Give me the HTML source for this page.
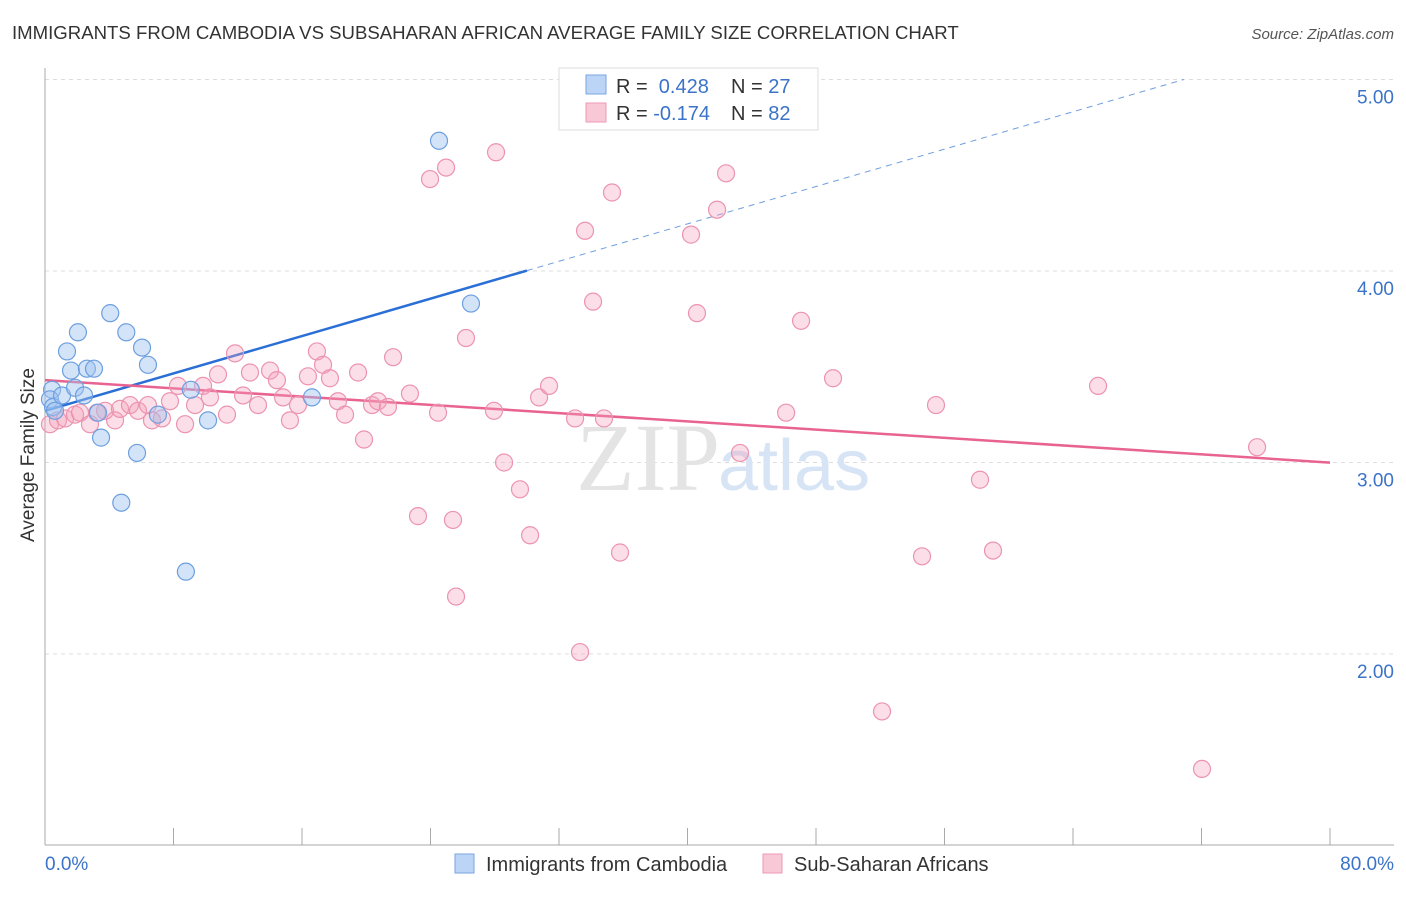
<!DOCTYPE html>
<html><head><meta charset="utf-8"><style>
body{margin:0;background:#fff;font-family:"Liberation Sans",sans-serif;}
</style></head><body>
<svg width="1406" height="892" xmlns="http://www.w3.org/2000/svg" style="font-family:'Liberation Sans',sans-serif">
<text x="12" y="39" font-size="18.6" fill="#333">IMMIGRANTS FROM CAMBODIA VS SUBSAHARAN AFRICAN AVERAGE FAMILY SIZE CORRELATION CHART</text>
<text x="1394" y="39" font-size="15" fill="#555" font-style="italic" text-anchor="end">Source: ZipAtlas.com</text>
<g id="grid"></g>
<g id="axes"></g>
<text x="720" y="490" font-size="96" fill="#e4e4e4" text-anchor="end" font-family="Liberation Serif">ZIP</text>
<text x="718" y="490" font-size="72" fill="#d6e4f5">atlas</text>
<g id="trend"></g>
<g id="pts"></g>
<text x="34" y="455" font-size="19" fill="#333" text-anchor="middle" transform="rotate(-90 34 455)">Average Family Size</text>
<text x="45" y="870" font-size="19" fill="#3b73c9">0.0%</text>
<text x="1394" y="870" font-size="19" fill="#3b73c9" text-anchor="end">80.0%</text>
<g>
<rect x="559" y="68" width="259" height="62" fill="#fff" stroke="#ddd"/>
<rect x="586" y="75" width="20" height="19" fill="#bcd4f5" stroke="#7aa6e0"/>
<rect x="586" y="103" width="20" height="19" fill="#f9c8d6" stroke="#ee9ab4"/>
<text x="616" y="93" font-size="20" fill="#333">R = <tspan fill="#3b73c9">&#160;0.428</tspan><tspan x="731">N = </tspan><tspan fill="#3b73c9">27</tspan></text>
<text x="616" y="120" font-size="20" fill="#333">R = <tspan fill="#3b73c9">-0.174</tspan><tspan x="731">N = </tspan><tspan fill="#3b73c9">82</tspan></text>
</g>
<g>
<rect x="455" y="854" width="19" height="19" fill="#bcd4f5" stroke="#7aa6e0"/>
<text x="486" y="871" font-size="20" fill="#333">Immigrants from Cambodia</text>
<rect x="763" y="854" width="19" height="19" fill="#f9c8d6" stroke="#ee9ab4"/>
<text x="794" y="871" font-size="20" fill="#333">Sub-Saharan Africans</text>
</g>
</svg>
<script>
const yTicks=[2,3,4,5];
const yTickLabels=["2.00","3.00","4.00","5.00"];
const blueX=[0.44,0.31,0.50,0.62,1.06,1.37,1.62,1.87,2.05,2.43,2.61,3.05,3.30,3.49,4.06,4.75,5.06,5.73,6.04,6.41,7.03,8.77,9.08,10.15,16.62,24.53,26.52];
const blueY=[3.38,3.33,3.29,3.27,3.35,3.58,3.48,3.39,3.68,3.35,3.49,3.49,3.26,3.13,3.78,2.79,3.68,3.05,3.60,3.51,3.25,2.43,3.38,3.22,3.34,4.68,3.83];
const pinkX=[0.31,0.81,1.25,1.87,2.18,2.80,3.24,3.74,4.36,4.67,5.29,5.79,6.41,6.66,7.28,7.78,8.28,8.72,9.34,9.84,10.27,10.77,11.33,11.83,12.33,12.76,13.26,14.01,14.44,14.82,15.25,15.75,16.37,16.93,17.31,17.74,18.24,18.68,19.49,19.86,20.36,20.73,21.35,21.67,22.72,23.22,23.97,24.47,24.97,25.40,25.59,26.21,27.95,28.08,28.58,29.57,30.20,30.76,31.38,33.00,33.31,33.62,34.12,34.80,35.30,35.80,40.22,40.59,41.84,42.40,43.27,46.14,47.07,49.06,52.11,54.60,55.47,58.21,59.02,65.56,72.03,75.46];
const pinkY=[3.20,3.22,3.23,3.25,3.26,3.20,3.26,3.27,3.22,3.28,3.30,3.27,3.30,3.22,3.23,3.32,3.40,3.20,3.30,3.40,3.34,3.46,3.25,3.57,3.35,3.47,3.30,3.48,3.43,3.34,3.22,3.30,3.45,3.58,3.51,3.44,3.32,3.25,3.47,3.12,3.30,3.32,3.29,3.55,3.36,2.72,4.48,3.26,4.54,2.70,2.30,3.65,3.27,4.62,3.00,2.86,2.62,3.34,3.40,3.23,2.01,4.21,3.84,3.23,4.41,2.53,4.19,3.78,4.32,4.51,3.05,3.26,3.74,3.44,1.70,2.51,3.30,2.91,2.54,3.40,1.40,3.08];
const blueTrend=[3.27,0.0244]; // intercept, slope
const pinkTrend=[3.43,-0.00538];
const NS="http://www.w3.org/2000/svg";
const xS=v=>45+v*(1285/80);
const yS=v=>79.5+(5-v)*191.5;
function mk(t,a,p){const e=document.createElementNS(NS,t);for(const k in a)e.setAttribute(k,a[k]);p.appendChild(e);return e;}
const grid=document.getElementById('grid'),axes=document.getElementById('axes');
yTicks.forEach((t,i)=>{
 const g=mk('line',{x1:45,x2:1394,y1:yS(t),y2:yS(t),stroke:'#ddd','stroke-dasharray':'4,4'},grid);
 
 
 const l=mk('text',{x:1394,y:yS(t)+24,'font-size':19,fill:'#3b73c9','text-anchor':'end'},grid);
 l.textContent=yTickLabels[i];
 
 
});
const ax=mk('line',{x1:45,x2:45,y1:68,y2:845,stroke:'#aaa'},axes);


const bx=mk('line',{x1:45,x2:1394,y1:845,y2:845,stroke:'#aaa'},axes);


for(let i=0;i<=10;i++){const t=mk('line',{x1:xS(i*8),x2:xS(i*8),y1:828,y2:845,stroke:'#aaa'},axes);
 
 }
const tr=document.getElementById('trend');
const bEnd=(5-blueTrend[0])/blueTrend[1];
const b1=mk('line',{x1:xS(0),y1:yS(blueTrend[0]),x2:xS(30),y2:yS(blueTrend[0]+30*blueTrend[1]),stroke:'#2a6fd6','stroke-width':2.5},tr);


const b2=mk('line',{x1:xS(30),y1:yS(blueTrend[0]+30*blueTrend[1]),x2:xS(bEnd),y2:yS(5),stroke:'#6f9ee0','stroke-width':1,'stroke-dasharray':'6,5'},tr);


const p1=mk('line',{x1:xS(0),y1:yS(pinkTrend[0]),x2:xS(80),y2:yS(pinkTrend[0]+80*pinkTrend[1]),stroke:'#e8638f','stroke-width':2.5},tr);


const pts=document.getElementById('pts');
pinkX.forEach((x,i)=>{const c=mk('circle',{cx:xS(x),cy:yS(pinkY[i]),r:8.5,fill:'rgba(244,160,187,0.35)',stroke:'#ec93b0','stroke-width':1.2},pts);
 
 });
blueX.forEach((x,i)=>{const c=mk('circle',{cx:xS(x),cy:yS(blueY[i]),r:8.5,fill:'rgba(160,195,240,0.45)',stroke:'#6d9fe0','stroke-width':1.2},pts);
 
 });
</script>
</body></html>
